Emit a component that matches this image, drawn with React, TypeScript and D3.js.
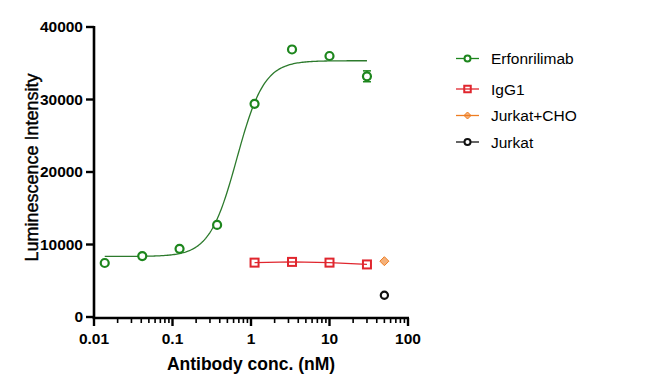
import React from "react";
import * as d3 from "d3";

// ---- Data ----
const erfConc = [0.0137, 0.0412, 0.123, 0.37, 1.11, 3.33, 10, 30];
const erfValues = [7450, 8400, 9400, 12700, 29400, 36900, 36000, 33200];
const erfErrors = [0, 0, 0, 0, 0, 0, 0, 750];

// 4PL fit parameters (Erfonrilimab)
const fitBottom = 8350;
const fitTop = 35350;
const fitEC50 = 0.66;
const fitHill = 2.5;

const iggConc = [1.11, 3.33, 10, 30];
const iggValues = [7500, 7600, 7500, 7250];

const jurkatChoConc = [50];
const jurkatChoValues = [7700];

const jurkatConc = [50];
const jurkatValues = [3000];

const xTicks = [0.01, 0.1, 1, 10, 100];
const xTickLabels = ["0.01", "0.1", "1", "10", "100"];
const yTicks = [0, 10000, 20000, 30000, 40000];

const legendLabels = ["Erfonrilimab", "IgG1", "Jurkat+CHO", "Jurkat"];

const GREEN = "#1d861d";
const GREEN_LINE = "#2c7a2c";
const RED = "#e0262e";
const ORANGE = "#ee7d22";
const BLACK = "#111111";

const W = 657;
const H = 385;
const left = 94;
const right = 408;
const top = 27;
const bottom = 317;

export default function App() {
  const x = d3.scaleLog().domain([0.01, 100]).range([left, right]);
  const y = d3.scaleLinear().domain([0, 40000]).range([bottom, top]);

  const minorTicks: number[] = [];
  for (let e = -2; e < 2; e++) {
    for (let k = 2; k <= 9; k++) minorTicks.push(k * Math.pow(10, e));
  }

  const fit = (c: number) => fitBottom + (fitTop - fitBottom) / (1 + Math.pow(fitEC50 / c, fitHill));
  const curvePts: [number, number][] = [];
  const lo = Math.log10(erfConc[0]);
  const hi = Math.log10(erfConc[erfConc.length - 1]);
  for (let i = 0; i <= 200; i++) {
    const c = Math.pow(10, lo + ((hi - lo) * i) / 200);
    curvePts.push([x(c), y(fit(c))]);
  }
  const line = d3.line();
  const iggLine = d3.line<number>().x((_, i) => x(iggConc[i])).y((v) => y(v));

  const font = "Arial, 'Liberation Sans', sans-serif";

  const circle = (cx: number, cy: number, color: string, r = 4.2, sw = 2.2) => (
    <circle cx={cx} cy={cy} r={r} fill="white" stroke={color} strokeWidth={sw} />
  );
  const square = (cx: number, cy: number, color: string, s = 8, sw = 2) => (
    <rect x={cx - s / 2} y={cy - s / 2} width={s} height={s} fill="none" stroke={color} strokeWidth={sw} />
  );
  const diamond = (cx: number, cy: number, color: string, s = 4.5) => (
    <path d={`M${cx},${cy - s}L${cx + s},${cy}L${cx},${cy + s}L${cx - s},${cy}Z`} fill={color} stroke={color} strokeWidth={1} fillOpacity={0.6} />
  );

  const legendY = [58.5, 89, 115.5, 142];
  const legendColors = [GREEN, RED, ORANGE, BLACK];

  return (
    <svg width={W} height={H} style={{ position: "absolute", left: 0, top: 0, background: "white" }} fontFamily={font}>
      <rect width={W} height={H} fill="white" />
      {/* fit curve */}
      <path d={line(curvePts) || ""} fill="none" stroke={GREEN_LINE} strokeWidth={1.3} />
      {/* IgG1 line */}
      <path d={iggLine(iggValues) || ""} fill="none" stroke={RED} strokeWidth={1.2} />

      {/* error bars */}
      {erfValues.map((v, i) =>
        erfErrors[i] > 0 ? (
          <g key={"eb" + i} stroke={GREEN} strokeWidth={1.5}>
            <line x1={x(erfConc[i])} x2={x(erfConc[i])} y1={y(v + erfErrors[i])} y2={y(v - erfErrors[i])} />
            <line x1={x(erfConc[i]) - 4} x2={x(erfConc[i]) + 4} y1={y(v + erfErrors[i])} y2={y(v + erfErrors[i])} />
            <line x1={x(erfConc[i]) - 4} x2={x(erfConc[i]) + 4} y1={y(v - erfErrors[i])} y2={y(v - erfErrors[i])} />
          </g>
        ) : null
      )}

      {erfValues.map((v, i) => <g key={"e" + i}>{circle(x(erfConc[i]), y(v), GREEN, 4, 2.2)}</g>)}
      {iggValues.map((v, i) => <g key={"g" + i}>{square(x(iggConc[i]), y(v), RED)}</g>)}
      {jurkatChoValues.map((v, i) => <g key={"jc" + i}>{diamond(x(jurkatChoConc[i]), y(v), ORANGE)}</g>)}
      {jurkatValues.map((v, i) => <g key={"j" + i}>{circle(x(jurkatConc[i]), y(v), BLACK, 3.6, 2.2)}</g>)}

      {/* axes */}
      <line x1={left} x2={left} y1={top - 1} y2={bottom + 1.5} stroke="black" strokeWidth={2.6} />
      <line x1={left - 1.3} x2={right + 1} y1={bottom + 1} y2={bottom + 1} stroke="black" strokeWidth={2.6} />
      {yTicks.map((t) => (
        <g key={"yt" + t}>
          <line x1={left - 8} x2={left} y1={y(t)} y2={y(t)} stroke="black" strokeWidth={2.4} />
          <text x={left - 11} y={y(t)} dy="0.35em" textAnchor="end" fontSize={15.5} fontWeight="bold">
            {t}
          </text>
        </g>
      ))}
      {xTicks.map((t, i) => (
        <g key={"xt" + t}>
          <line x1={x(t)} x2={x(t)} y1={bottom + 1} y2={bottom + 9} stroke="black" strokeWidth={2.4} />
          <text x={x(t)} y={bottom + 27} textAnchor="middle" fontSize={15.5} fontWeight="bold">
            {xTickLabels[i]}
          </text>
        </g>
      ))}
      {minorTicks.map((t, i) => (
        <line key={"mt" + i} x1={x(t)} x2={x(t)} y1={bottom + 1} y2={bottom + 6} stroke="black" strokeWidth={1.6} />
      ))}

      <text x={251} y={370} textAnchor="middle" fontSize={17.5} fontWeight="bold">
        Antibody conc. (nM)
      </text>
      <text transform={`translate(37.5,167.5) rotate(-90)`} textAnchor="middle" fontSize={18} stroke="black" strokeWidth={0.4}>
        Luminescence Intensity
      </text>

      {/* legend */}
      {legendLabels.map((lab, i) => (
        <g key={"lg" + i}>
          <line x1={456} x2={479} y1={legendY[i]} y2={legendY[i]} stroke={legendColors[i]} strokeWidth={1.3} />
          {i === 0 && circle(467.5, legendY[i], GREEN, 3, 2)}
          {i === 1 && square(467.5, legendY[i], RED, 6.5, 2)}
          {i === 2 && diamond(467.5, legendY[i], ORANGE, 3.5)}
          {i === 3 && circle(467.5, legendY[i], BLACK, 3, 2)}
          <text x={491} y={legendY[i]} dy="0.36em" fontSize={15.5}>
            {lab}
          </text>
        </g>
      ))}
    </svg>
  );
}
